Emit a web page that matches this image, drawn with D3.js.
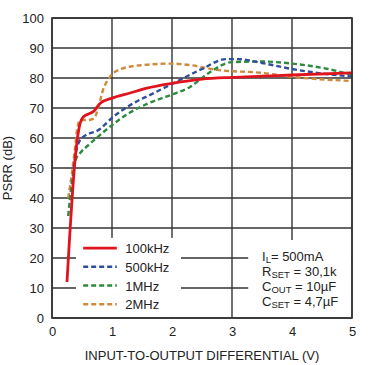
<!DOCTYPE html>
<html>
<head>
<meta charset="utf-8">
<script src="https://cdn.jsdelivr.net/npm/d3@7"></script>
<style>
  body { margin: 0; background: #fff; }
  text { font-family: Arial, "Liberation Sans", sans-serif; fill: #222; }
</style>
</head>
<body>
<div id="chart"></div>
<script>
// data
const seriesNames = ["100kHz", "500kHz", "1MHz", "2MHz"];
const seriesColors = ["#e0141e", "#2f4f9c", "#2e8a3e", "#cf8a3c"];

const psrr100k = [[0.25, 12], [0.4, 56], [0.47, 65], [0.52, 67], [0.7, 69], [0.8, 71.5], [1.0, 73.3],
  [1.3, 75], [1.6, 76.7], [2.0, 78.2], [2.5, 79.6], [3.0, 80.2], [3.5, 80.6], [4.0, 81], [5.0, 81.7]];
const psrr500k = [[0.36, 50], [0.42, 57], [0.5, 60], [0.8, 63], [1.0, 66.7], [1.35, 71.5], [1.7, 75],
  [2.0, 78], [2.5, 83], [2.9, 86.3], [3.1, 86.3], [3.5, 85], [4.0, 83], [4.5, 81.5], [5.0, 80.5]];
const psrr1M = [[0.27, 34], [0.33, 45], [0.4, 53], [0.47, 55], [0.6, 57.5], [0.8, 61], [1.0, 64.3],
  [1.3, 68.5], [1.6, 71.5], [2.0, 74.5], [2.3, 77], [2.6, 81.5], [3.0, 85.3], [3.5, 85.5], [4.0, 84.8],
  [4.6, 83], [5.0, 81]];
const psrr2M = [[0.27, 40], [0.33, 48], [0.38, 56], [0.42, 63], [0.47, 66], [0.6, 66], [0.7, 66.5],
  [0.77, 70], [0.85, 76], [0.96, 80.2], [1.15, 83], [1.5, 84.3], [2.0, 84.8], [2.3, 84.3], [2.75, 82.7],
  [3.5, 81.7], [4.0, 80.4], [5.0, 79]];
const allSeries = [psrr100k, psrr500k, psrr1M, psrr2M];

const xTicks = [0, 1, 2, 3, 4, 5];
const yTicks = [0, 10, 20, 30, 40, 50, 60, 70, 80, 90, 100];
const notes = [["I", "L", "= 500mA"], ["R", "SET", " = 30,1k"], ["C", "OUT", " = 10µF"], ["C", "SET", " = 4,7µF"]];

const margin = {top: 18, right: 18, bottom: 47, left: 52},
  width = 370 - margin.left - margin.right,
  height = 365 - margin.top - margin.bottom;

const svg = d3.select("#chart").append("svg")
  .attr("width", 370).attr("height", 365)
  .append("g")
  .attr("transform", `translate(${margin.left},${margin.top})`);

const x = d3.scaleLinear().domain([0, 5]).range([0, width]);
const y = d3.scaleLinear().domain([0, 100]).range([height, 0]);

const gridColor = "#333";

// grid
svg.append("g").selectAll("line.h").data(yTicks).enter().append("line")
  .attr("x1", 0).attr("x2", width)
  .attr("y1", d => y(d)).attr("y2", d => y(d))
  .attr("stroke", gridColor).attr("stroke-width", 1.4);
svg.append("g").selectAll("line.v").data(xTicks).enter().append("line")
  .attr("y1", 0).attr("y2", height)
  .attr("x1", d => x(d)).attr("x2", d => x(d))
  .attr("stroke", gridColor).attr("stroke-width", 1.4);

// white boxes for legend + notes (they hide the grid)
svg.append("rect").attr("x", x(0.4)).attr("y", y(26.7)).attr("width", x(2.15) - x(0.4)).attr("height", y(0) - y(26.7) - 1)
  .attr("fill", "#fff");
svg.append("rect").attr("x", x(3.27)).attr("y", y(26)).attr("width", x(5) - x(3.27) - 1).attr("height", y(0) - y(26) - 1)
  .attr("fill", "#fff");

// curves
const line = d3.line()
  .x(d => x(d[0]))
  .y(d => y(d[1]))
  .curve(d3.curveMonotoneX);

[3, 2, 1, 0].forEach(i => {
  svg.append("path")
    .datum(allSeries[i])
    .attr("fill", "none")
    .attr("stroke", seriesColors[i])
    .attr("stroke-width", i == 0 ? 2.8 : 2.4)
    .attr("stroke-dasharray", i == 0 ? null : "5,3")
    .attr("d", line);
});

// axes
const xAxis = svg.append("g")
  .attr("transform", "translate(0," + height + ")")
  .call(d3.axisBottom(x).tickValues(xTicks).tickFormat(d3.format("d")).tickSize(0).tickPadding(9));
xAxis.select(".domain").remove();
xAxis.selectAll("text").style("font-size", "13px").attr("fill", "#222");

const yAxis = svg.append("g")
  .call(d3.axisLeft(y).tickValues(yTicks).tickSize(0).tickPadding(8));
yAxis.select(".domain").remove();
yAxis.selectAll("text").style("font-size", "13px").attr("fill", "#222");

// legend
seriesNames.forEach((name, i) => {
  let ly = y(23.3) + i * 18.7;
  svg.append("line")
    .attr("x1", x(0.52)).attr("x2", x(1.08))
    .attr("y1", ly).attr("y2", ly)
    .attr("stroke", seriesColors[i])
    .attr("stroke-width", i == 0 ? 2.8 : 2.4)
    .attr("stroke-dasharray", i == 0 ? null : "5,3");
  svg.append("text")
    .attr("x", x(1.22)).attr("y", ly + 5)
    .style("font-size", "13px")
    .text(name);
});

// notes
notes.forEach((n, i) => {
  let t = svg.append("text")
    .attr("x", x(3.5)).attr("y", y(19) + i * 15)
    .style("font-size", "13px");
  t.append("tspan").text(n[0]);
  t.append("tspan").attr("dy", 2).style("font-size", "9.5px").text(n[1]);
  t.append("tspan").attr("dy", -2).text(n[2]);
});

// frame
svg.append("rect").attr("width", width).attr("height", height)
  .attr("fill", "none").attr("stroke", gridColor).attr("stroke-width", 1.6);

// titles
svg.append("text")
  .attr("x", width / 2).attr("y", height + 42)
  .attr("text-anchor", "middle")
  .style("font-size", "13px")
  .text("INPUT-TO-OUTPUT DIFFERENTIAL (V)");

svg.append("text")
  .attr("transform", "rotate(-90)")
  .attr("x", -(y(50))).attr("y", -40)
  .attr("text-anchor", "middle")
  .style("font-size", "13px")
  .text("PSRR (dB)");
</script>
</body>
</html>
